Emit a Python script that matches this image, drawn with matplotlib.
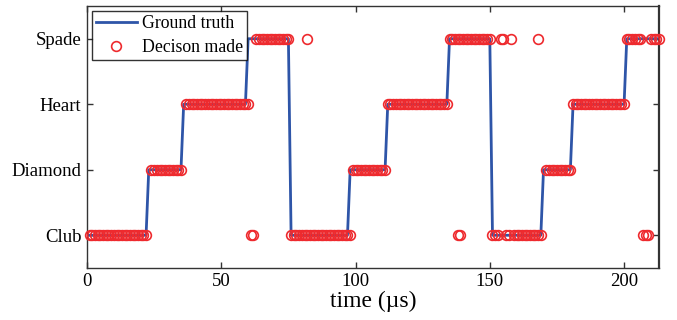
import matplotlib
matplotlib.use("Agg")
import matplotlib.pyplot as plt
import numpy as np

plt.rcParams["font.family"] = ["Liberation Serif", "DejaVu Serif"]

LEVELS = ["Club", "Diamond", "Heart", "Spade"]

# ground truth, sampled every 1 us: segment start time and level (1 = Club ... 4 = Spade)
T_END = 213
TRUTH_START = [0, 23, 36, 60, 76, 98, 112, 135, 151, 170, 181, 201]
TRUTH_LEVEL = [1, 2, 3, 4, 1, 2, 3, 4, 1, 2, 3, 4]

# decisions every 1 us: runs of consecutive samples (start, end inclusive) plus isolated errors
DEC_START = [1, 24, 37, 63, 76, 99, 112, 135, 151, 156, 159, 171, 181, 201, 207, 210]
DEC_END = [22, 35, 60, 75, 98, 111, 134, 150, 153, 157, 169, 180, 200, 206, 209, 213]
DEC_LEVEL = [1, 2, 3, 4, 1, 2, 3, 4, 1, 1, 1, 2, 3, 4, 1, 4]
OUT_T = [61, 62, 82, 138, 139, 154, 155, 158, 168]
OUT_LEVEL = [1, 1, 4, 1, 1, 4, 4, 4, 4]


def main():
    t_truth = np.arange(0, T_END + 1)
    lengths = np.diff(TRUTH_START + [T_END + 1])
    y_truth = np.repeat(TRUTH_LEVEL, lengths)

    runs_t = [np.arange(a, b + 1) for a, b in zip(DEC_START, DEC_END)]
    runs_y = [np.full(len(r), lv) for r, lv in zip(runs_t, DEC_LEVEL)]
    t_dec = np.concatenate(runs_t + [OUT_T])
    y_dec = np.concatenate(runs_y + [OUT_LEVEL])

    fig = plt.figure(figsize=(6.77, 3.2), dpi=100)
    ax = fig.add_axes([0.1285, 0.1625, 0.9734 - 0.1285, 0.98125 - 0.1625])

    ax.plot(t_truth, y_truth, "-", color="#2E55A8", lw=2.0, label="Ground truth", zorder=2)
    ax.plot(t_dec, y_dec, "o", mfc="none", mec="#EE2A2E", mew=1.2, ms=7,
            label="Decison made", clip_on=False, zorder=3)

    ax.set_xlim(0, 213)
    ax.set_ylim(0.5, 4.5)
    ax.set_xticks([0, 50, 100, 150, 200])
    ax.set_yticks([1, 2, 3, 4])
    ax.set_yticklabels(LEVELS)
    ax.tick_params(direction="in", length=4, width=1, top=True, right=True,
                   labelsize=13.5, color="#333333")
    ax.tick_params(axis="y", pad=4)
    for sp in ax.spines.values():
        sp.set_color("#333333")
        sp.set_linewidth(1.0)
    ax.spines["right"].set_linewidth(1.6)
    ax.set_xlabel("time (\u00b5s)", fontsize=17, labelpad=1)

    leg = ax.legend(loc="upper left", fontsize=12.8, frameon=True, fancybox=False,
                    edgecolor="black", borderpad=0.2, handlelength=2.3,
                    handletextpad=0.3, labelspacing=0.4, borderaxespad=0.3)
    leg.get_frame().set_linewidth(1.0)

    fig.savefig("out.png", dpi=100)


if __name__ == "__main__":
    main()
